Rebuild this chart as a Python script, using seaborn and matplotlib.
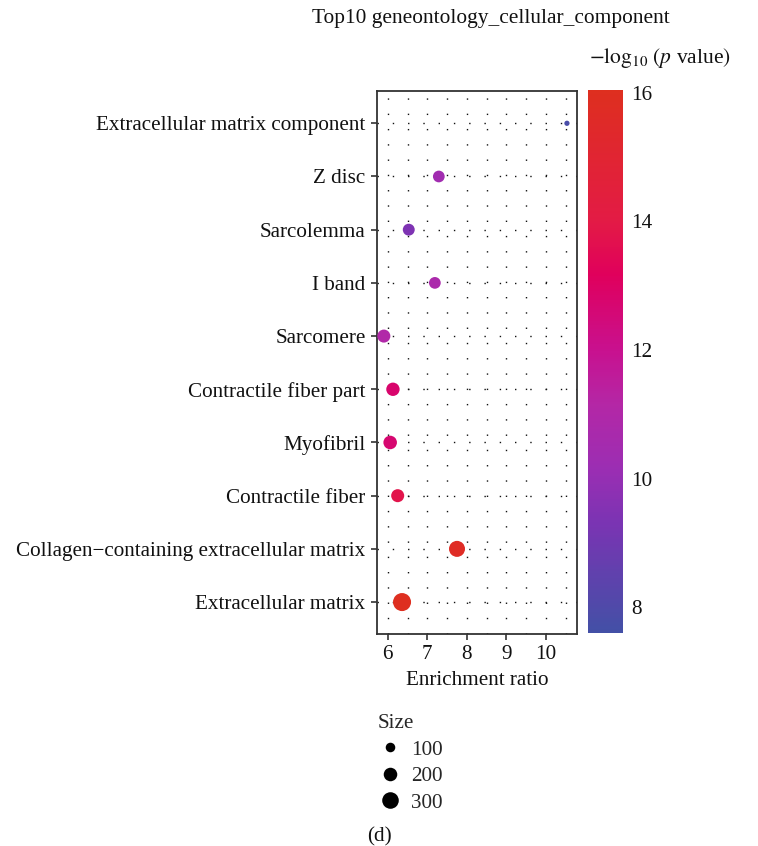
import numpy as np
import pandas as pd
import matplotlib
matplotlib.use("Agg")
import matplotlib.pyplot as plt
import seaborn as sns
from matplotlib.colors import LinearSegmentedColormap, Normalize
from matplotlib.lines import Line2D
from matplotlib.cm import ScalarMappable

# ---- data (top to bottom) ----
terms = [
    "Extracellular matrix component",
    "Z disc",
    "Sarcolemma",
    "I band",
    "Sarcomere",
    "Contractile fiber part",
    "Myofibril",
    "Contractile fiber",
    "Collagen\u2212containing extracellular matrix",
    "Extracellular matrix",
]
enrichment = [10.53, 7.29, 6.53, 7.19, 5.90, 6.13, 6.06, 6.25, 7.75, 6.36]
neglog10p = [7.8, 10.4, 9.4, 10.8, 11.0, 12.8, 12.7, 13.8, 15.7, 16.0]
gene_size = [30, 150, 155, 150, 185, 195, 200, 185, 280, 355]
size_breaks = [100, 200, 300]
cbar_ticks = [8, 10, 12, 14, 16]

df = pd.DataFrame({"term": terms, "ratio": enrichment,
                   "logp": neglog10p, "size": gene_size})

sns.set_theme(style="white")
plt.rcParams["font.family"] = ["Liberation Serif", "DejaVu Serif"]
plt.rcParams["mathtext.fontset"] = "stix"

cmap = LinearSegmentedColormap.from_list("gob", [
    (0.00, "#4350A6"),
    (0.20, "#7A34B3"),
    (0.30, "#9B2EB3"),
    (0.42, "#B427A6"),
    (0.52, "#C8118F"),
    (0.66, "#E0005C"),
    (0.76, "#E31B45"),
    (1.00, "#DE2F1F"),
])
vmin, vmax = 7.6, 16.05
norm = Normalize(vmin, vmax)

FS = 15.2

fig = plt.figure(figsize=(7.58, 8.46), dpi=100)
ax = fig.add_axes([0.497, 0.2506, 0.264, 0.6414])

size_norm = (0, 400)
size_range = (0, 190)

sns.scatterplot(data=df, x="ratio", y="term", hue="logp", size="size",
                palette=cmap, hue_norm=norm, sizes=size_range,
                size_norm=size_norm, legend=False, linewidth=0, ax=ax,
                zorder=3)

ax.set_xlim(5.72, 10.78)
ax.set_ylim(len(terms) - 0.4, -0.6)
ax.set_xticks([6, 7, 8, 9, 10])
ax.set_xticks(np.arange(6.5, 10.6, 1.0), minor=True)
ax.grid(True, which="both", axis="x", color="#111111",
        linestyle=(0, (1, 10)), linewidth=1.0)
ax.grid(True, which="major", axis="y", color="#111111",
        linestyle=(0, (1, 10)), linewidth=1.0)
ax.tick_params(axis="both", which="major", direction="out", length=4,
               width=1.2, color="#333333", labelsize=FS, bottom=True,
               left=True, pad=4, labelcolor="#111111")
ax.tick_params(axis="x", which="minor", length=0)
for s in ax.spines.values():
    s.set_color("#333333")
    s.set_linewidth(1.3)
ax.set_xlabel("Enrichment ratio", fontsize=FS, labelpad=5, color="#111111")
ax.set_ylabel("")

# colorbar
cax = fig.add_axes([0.776, 0.252, 0.046, 0.642])
sm = ScalarMappable(norm=norm, cmap=cmap)
cb = fig.colorbar(sm, cax=cax, ticks=cbar_ticks)
cb.outline.set_visible(False)
cax.tick_params(which="major", direction="in", left=True, right=True,
                color="white", length=6, width=1, labelsize=FS,
                labelright=True, labelleft=False, pad=6,
                labelcolor="#111111")
cax.tick_params(which="minor", length=0)
fig.text(0.871, 0.931, r"$-\log_{10}\,(p$ value$)$", fontsize=15.5,
         ha="center", va="center", color="#111111")

fig.text(0.647, 0.978, "Top10 geneontology_cellular_component",
         fontsize=15.4, ha="center", va="center", color="#111111")

# size legend
s_handles = []
for b in size_breaks:
    area = size_range[0] + (b - size_norm[0]) / (size_norm[1] - size_norm[0]) * (size_range[1] - size_range[0])
    s_handles.append(Line2D([], [], linestyle="none", marker="o",
                            markersize=np.sqrt(area), color="black",
                            markeredgewidth=0))
leg = fig.legend(s_handles, [str(b) for b in size_breaks], title="Size",
                 loc="upper left", bbox_to_anchor=(0.487, 0.166),
                 frameon=False, fontsize=FS, title_fontsize=FS,
                 handletextpad=0.4, labelspacing=0.32, borderaxespad=0,
                 handlelength=1.2)
leg._legend_box.align = "left"

fig.text(0.5, 0.011, "(d)", fontsize=FS, ha="center", va="center",
         color="#111111")

fig.savefig("out.png", dpi=100)
